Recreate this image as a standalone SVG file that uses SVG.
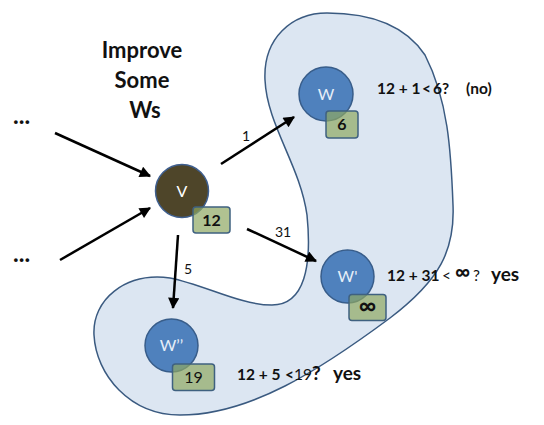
<svg xmlns="http://www.w3.org/2000/svg" width="544" height="425" viewBox="0 0 544 425">
<defs>
<style>
text{font-family:Lato,"Open Sans","Liberation Sans",sans-serif;}
.title{font-size:22px;font-weight:bold;fill:#111;text-anchor:middle;}
.node{fill:#4f81bd;stroke:#385d8a;stroke-width:1.5;}
.nlab{font-size:16px;fill:#e6eef8;text-anchor:middle;}
.badge{fill:#8fa863;fill-opacity:0.7;stroke:#3f6180;stroke-width:1.5;}
.blab{font-size:16px;font-weight:bold;fill:#111;text-anchor:middle;}
.edge{stroke:#000;stroke-width:2.5;fill:none;marker-end:url(#ah);}
.elab{font-size:14px;fill:#111;}
.cmp{font-size:15.5px;font-weight:bold;fill:#111;}
.thin{font-weight:normal;}
.big{font-size:19px;font-weight:bold;fill:#111;}
.dots{font-size:24px;font-weight:bold;fill:#111;}
</style>
<marker id="ah" viewBox="0 0 10 10" refX="9" refY="5" markerWidth="5" markerHeight="4.5" orient="auto" markerUnits="strokeWidth">
<path d="M0,0 L10,5 L0,10 Z" fill="#000"/>
</marker>
</defs>
<g id="region">
<path d="M327,13 C292,13 263,38 265,80 C267,125 300,165 307,215 C312,265 305,305 272,305 C240,305 205,285 170,278 C125,272 92,300 94,335 C96,375 130,415 180,415 C250,415 320,370 390,318 C440,280 455,250 453,205 C451,150 448,100 425,55 C405,25 370,13 327,13 Z" fill="#dce6f2" stroke="#3a5a80" stroke-width="1.5"/>
</g>
<g id="title">
<text class="title" x="142" y="58">Improve</text>
<text class="title" x="142" y="88">Some</text>
<text class="title" x="145" y="118">Ws</text>
</g>
<g id="dots">
<text class="dots" x="13" y="124">...</text>
<text class="dots" x="13" y="262">...</text>
</g>
<g id="connectors">
<line class="edge" x1="55" y1="133" x2="150" y2="176"/>
<line class="edge" x1="60" y1="260" x2="150" y2="208"/>
<line class="edge" x1="221" y1="164" x2="294" y2="117"/>
<line class="edge" x1="247" y1="229" x2="316" y2="261"/>
<line class="edge" x1="178" y1="235" x2="173" y2="308"/>
<text class="elab" x="242" y="141">1</text>
<text class="elab" x="275" y="237">31</text>
<text class="elab" x="184" y="274">5</text>
</g>
<g id="node-v">
<circle cx="182" cy="191" r="26.5" fill="#4e4529" stroke="#3f5f8f" stroke-width="1.5"/>
<text class="nlab" x="182" y="197" style="fill:#fff">V</text>
<rect class="badge" x="193" y="207" width="37" height="26" rx="3"/>
<text class="blab" x="211.5" y="226">12</text>
</g>
<g id="node-w">
<circle class="node" cx="326" cy="94" r="27"/>
<text class="nlab" x="326" y="100">W</text>
<rect class="badge" x="326" y="111" width="32" height="27" rx="3"/>
<text class="blab" x="342" y="130">6</text>
<text class="cmp" x="377" y="94">12 + 1</text>
<text class="cmp" x="422" y="94">&lt;</text>
<text class="cmp" x="433" y="94">6?</text>
<text class="cmp" x="466" y="94">(no)</text>
</g>
<g id="node-w1">
<circle class="node" cx="347.5" cy="276.5" r="26.5"/>
<text class="nlab" x="347.5" y="282">W'</text>
<rect class="badge" x="349" y="294.5" width="37" height="26" rx="3"/>
<text class="blab" x="367.5" y="314" style="font-size:24px">∞</text>
<text class="cmp" x="387" y="281">12 + 31</text>
<text class="cmp thin" x="442" y="281">&lt;</text>
<text class="cmp" x="455" y="279" style="font-size:21px">∞</text>
<text class="cmp thin" x="473" y="281">?</text>
<text class="big" x="491" y="281">yes</text>
</g>
<g id="node-w2">
<circle class="node" cx="171.5" cy="345.5" r="26.5"/>
<text class="nlab" x="171.5" y="351">W’’</text>
<rect class="badge" x="172.5" y="364" width="42" height="26.5" rx="3"/>
<text class="blab" x="193.5" y="383" style="font-weight:normal">19</text>
<text class="cmp" x="237" y="380">12 + 5</text>
<text class="cmp" x="285" y="380">&lt;</text>
<text class="cmp thin" x="294" y="380">19</text>
<text class="big" x="312" y="380">?</text>
<text class="big" x="333" y="380">yes</text>
</g>
</svg>
